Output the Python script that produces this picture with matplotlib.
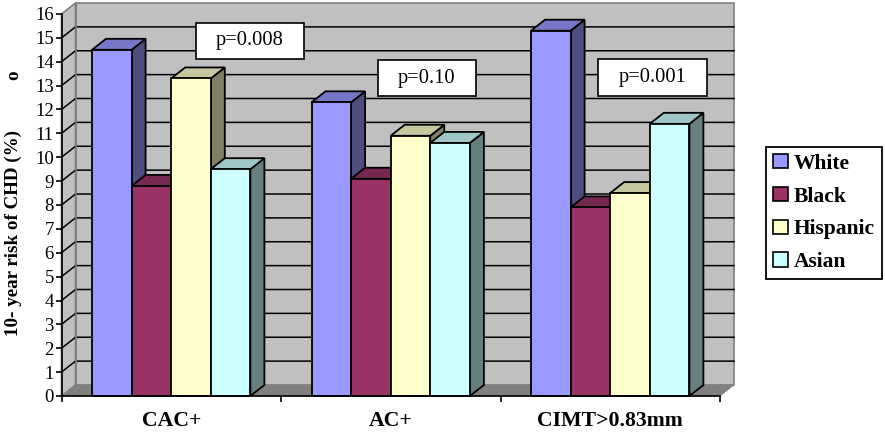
import matplotlib
matplotlib.use("Agg")
import matplotlib.pyplot as plt
from matplotlib.patches import Polygon, Rectangle, Patch
from matplotlib.colors import to_rgb

categories = ["CAC+", "AC+", "CIMT>0.83mm"]
series_names = ["White", "Black", "Hispanic", "Asian"]
white = [14.5, 12.3, 15.3]
black = [8.8, 9.1, 7.9]
hispanic = [13.3, 10.9, 8.5]
asian = [9.5, 10.6, 11.4]
series = [white, black, hispanic, asian]
colors = ["#9999FF", "#993366", "#FFFFCC", "#CCFFFF"]
y_ticks = list(range(0, 17))
p_labels = ["p=0.008", "p=0.10", "p=0.001"]

plt.rcParams['font.family'] = ['Liberation Serif', 'DejaVu Serif']
W, H = 885, 432
fig = plt.figure(figsize=(W / 100, H / 100), dpi=100)
L, R, B, T = 61.5, 720.0, 396.0, 14.0
ax = fig.add_axes([L / W, 1 - B / H, (R - L) / W, (B - T) / H])
ax.set_xlim(0, 3)
ax.set_ylim(0, 16)
ax.patch.set_visible(False)
ppx = (R - L) / 3
ppy = (B - T) / 16
dx, dy = 14 / ppx, 11 / ppy
GREY, DARK = "#C0C0C0", "#808080"


def poly(pts, fc, ec="black", lw=1.3, z=1):
    ax.add_patch(Polygon(pts, closed=True, fc=fc, ec=ec, lw=lw, clip_on=False,
                         zorder=z, joinstyle="miter"))


# walls and floor
poly([(dx, dy), (3 + dx, dy), (3 + dx, 16 + dy), (dx, 16 + dy)], GREY, DARK, 1.2, 1)
poly([(0, 0), (dx, dy), (dx, 16 + dy), (0, 16)], GREY, DARK, 1.2, 1)
poly([(0, 0), (3, 0), (3 + dx, dy), (dx, dy)], DARK, DARK, 0.5, 1.5)
for v in y_ticks[1:-1]:
    ax.plot([0, dx, 3 + dx], [v, v + dy, v + dy], color="black", lw=1.1,
            clip_on=False, zorder=1.2, solid_joinstyle="miter")
ax.plot([dx, dx], [dy, 16 + dy], color=DARK, lw=1.2, clip_on=False, zorder=1.3)

# 3-D bars
offset, width = 30.5 / ppx, 39.6 / ppx
z = 2
for g in range(len(categories)):
    for s, vals in enumerate(series):
        x0 = g + offset + s * width
        x1 = x0 + width
        v = vals[g]
        c = to_rgb(colors[s])
        side = tuple(k * 0.5 for k in c)
        top = tuple(k * 0.78 for k in c)
        poly([(x1, 0), (x1 + dx, dy), (x1 + dx, v + dy), (x1, v)], side, z=z)
        poly([(x0, v), (x1, v), (x1 + dx, v + dy), (x0 + dx, v + dy)], top, z=z + 0.1)
        poly([(x0, 0), (x1, 0), (x1, v), (x0, v)], c, z=z + 0.2)
        z += 1

# axes
for sp in ("top", "right"):
    ax.spines[sp].set_visible(False)
for sp in ("left", "bottom"):
    ax.spines[sp].set_linewidth(1.2)
    ax.spines[sp].set_zorder(100)
ax.set_yticks(y_ticks)
ax.set_yticklabels([str(v) for v in y_ticks], fontsize=13.5)
ax.set_xticks(range(len(categories) + 1))
ax.set_xticklabels([])
ax.set_xticks([i + 0.5 for i in range(len(categories))], minor=True)
ax.set_xticklabels(categories, minor=True, fontsize=15.7, fontweight="bold")
ax.tick_params(axis="x", which="minor", length=0, pad=11)
ax.tick_params(axis="both", which="major", length=4.5, width=1.2, pad=1.5)
ax.tick_params(axis="y", pad=1)
for t in ax.get_xticklabels(which="minor"):
    t.set_fontweight("bold")

fig.text(13 / W, 1 - 233 / H, "10- year risk of CHD (%)", rotation=90, fontsize=13.7,
         fontweight="bold", ha="center", va="center")
fig.text(14 / W, 1 - 75 / H, "o", rotation=90, fontsize=13.7,
         fontweight="bold", ha="center", va="center")

# p-value boxes
boxes = [(196, 304, 23, 59), (378, 476, 60, 96), (598, 707, 59, 96)]
for (x0, x1, y0, y1), lab in zip(boxes, p_labels):
    fig.add_artist(Rectangle((x0 / W, 1 - y1 / H), (x1 - x0) / W, (y1 - y0) / H,
                             transform=fig.transFigure, fc="white", ec="black", lw=1.2,
                             zorder=50))
    fig.text((x0 + x1) / 2 / W, 1 - (y0 + y1) / 2 / H, lab, fontsize=14.8,
             ha="center", va="center", zorder=51)

# legend
handles = [Patch(fc=c, ec="black", lw=1.2, label=n) for c, n in zip(colors, series_names)]
leg = fig.legend(handles=handles, loc="center",
                 bbox_to_anchor=(824 / W, 1 - 213 / H), ncol=1, fancybox=False,
                 edgecolor="black", framealpha=1, borderpad=0.33, borderaxespad=0,
                 labelspacing=0.6, handlelength=0.68, handleheight=0.68,
                 handletextpad=0.3, prop={"size": 15.5, "weight": "bold"})
leg.get_frame().set_linewidth(1.3)

fig.savefig("out.png", dpi=100)
